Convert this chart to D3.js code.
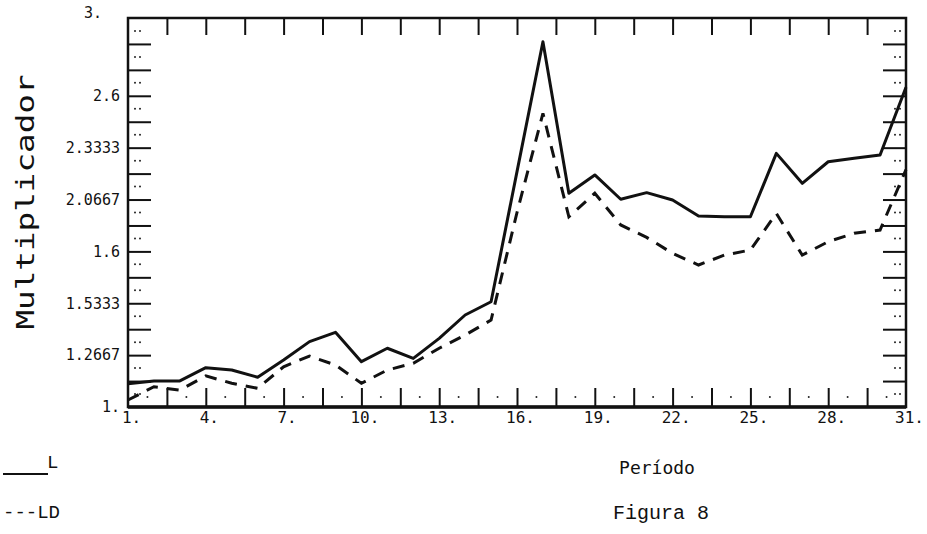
<!DOCTYPE html>
<html lang="es">
<head>
  <meta charset="utf-8">
  <title>Figura 8</title>
  <script src="https://d3js.org/d3.v7.min.js"></script>
  <style>
    body { margin: 0; padding: 0; background: #fff; overflow: hidden; }
    svg { display: block; background: #fff; }
    .ticks line { stroke: #111; stroke-width: 2px; }
    .ticks .domain { display: none; }
    .lbl text { font-family: "DejaVu Sans Mono", monospace; font-size: 15px; fill: #111; }
    .lbl .domain { display: none; }
    .xlbl text { font-size: 16px; }
  </style>
</head>
<body>
  <svg id="chart" width="927" height="534"></svg>

  <script>
    // periods 1..31
    const periods = d3.range(1, 32);

    // series L (solid) and LD (dashed)
    const seriesL = [1.12, 1.134, 1.134, 1.202, 1.19, 1.153, 1.242, 1.336, 1.384, 1.233,
      1.302, 1.25, 1.353, 1.473, 1.541, 2.21, 2.878, 2.099, 2.193, 2.068,
      2.102, 2.064, 1.982, 1.978, 1.978, 2.304, 2.15, 2.261, 2.279, 2.296, 2.644];
    const seriesLD = [1.036, 1.104, 1.087, 1.16, 1.122, 1.096, 1.207, 1.262, 1.216, 1.122,
      1.19, 1.225, 1.302, 1.37, 1.447, 2.0, 2.51, 1.978, 2.099, 1.936,
      1.872, 1.79, 1.73, 1.781, 1.807, 1.995, 1.781, 1.85, 1.893, 1.91, 2.22];

    // tick labels
    const xLabelValues = [1, 4, 7, 10, 13, 16, 19, 22, 25, 28, 31];
    const yLabelValues = [1, 1.26667, 1.53333, 1.8, 2.06667, 2.33333, 2.6, 3];
    const yLabelText = ["1.", "1.2667", "1.5333", "1.6", "2.0667", "2.3333", "2.6", "3."];

    const svg = d3.select("#chart");

    const x = d3.scaleLinear().domain([1, 31]).range([128, 906]);
    const y = d3.scaleLinear().domain([1, 3]).range([407, 18]);

    // minor ticks: 20 steps on x, 15 steps on y
    const xTicks = d3.range(21).map(i => 1 + i * 1.5);
    const yTicks = d3.range(1, 15).map(i => 1 + i * 2 / 15);

    svg.append("g").attr("class", "ticks")
      .attr("transform", "translate(0,407)")
      .call(d3.axisBottom(x).tickValues(xTicks.slice(1, -1)).tickSize(-19).tickFormat(""));
    svg.append("g").attr("class", "ticks")
      .attr("transform", "translate(0,18)")
      .call(d3.axisTop(x).tickValues(xTicks.slice(1, -1)).tickSize(-17).tickFormat(""));
    svg.append("g").attr("class", "ticks")
      .attr("transform", "translate(128,0)")
      .call(d3.axisLeft(y).tickValues(yTicks).tickSize(-23).tickFormat(""));
    svg.append("g").attr("class", "ticks")
      .attr("transform", "translate(906,0)")
      .call(d3.axisRight(y).tickValues(yTicks).tickSize(-23).tickFormat(""));

    // little dotted marks between the ticks
    const dots = svg.append("g").attr("fill", "#222");
    const yMid = d3.range(15).map(i => 1 + (i + 0.5) * 2 / 15);
    yMid.forEach(v => {
      [135, 140, 895, 900].forEach(cx => {
        dots.append("circle").attr("cx", cx).attr("cy", y(v)).attr("r", 1);
      });
    });
    d3.range(20).map(i => 1 + (i + 0.5) * 1.5).forEach(v => {
      dots.append("circle").attr("cx", x(v)).attr("cy", 397).attr("r", 1);
    });

    // frame
    svg.append("rect")
      .attr("x", 128).attr("y", 18)
      .attr("width", 906 - 128).attr("height", 407 - 18)
      .attr("fill", "none").attr("stroke", "#111").attr("stroke-width", 2.5);
    svg.append("line")
      .attr("x1", 128).attr("x2", 906).attr("y1", 407).attr("y2", 407)
      .attr("stroke", "#111").attr("stroke-width", 3.5);

    // tick labels
    svg.append("g").attr("class", "lbl xlbl")
      .attr("transform", "translate(0,409)")
      .call(d3.axisBottom(x).tickValues(xLabelValues).tickSize(0).tickPadding(3)
        .tickFormat(d => d + "."))
      .selectAll("text").attr("dx", 3);
    const yl = svg.append("g").attr("class", "lbl")
      .attr("transform", "translate(128,0)")
      .call(d3.axisLeft(y).tickValues(yLabelValues).tickSize(0).tickPadding(8)
        .tickFormat((d, i) => yLabelText[i]));
    // top label sits a little up and left in the original
    yl.selectAll("text").filter(d => d === 3).attr("dx", -18).attr("dy", "-0.05em");

    // lines
    const line = d3.line().x((d, i) => x(periods[i])).y(d => y(d));

    svg.append("path")
      .datum(seriesL)
      .attr("d", line)
      .attr("fill", "none")
      .attr("stroke", "#111")
      .attr("stroke-width", 3)
      .attr("stroke-linejoin", "round");

    svg.append("path")
      .datum(seriesLD)
      .attr("d", line)
      .attr("fill", "none")
      .attr("stroke", "#111")
      .attr("stroke-width", 3)
      .attr("stroke-dasharray", "12,9");

    // axis titles
    svg.append("text")
      .attr("transform", "translate(34,202) rotate(-90)")
      .attr("text-anchor", "middle")
      .attr("font-family", "DejaVu Sans Mono, monospace")
      .attr("font-size", 24)
      .attr("textLength", 255)
      .attr("lengthAdjust", "spacingAndGlyphs")
      .attr("fill", "#111")
      .text("Multiplicador");

    svg.append("text")
      .attr("x", 657).attr("y", 474)
      .attr("text-anchor", "middle")
      .attr("font-family", "DejaVu Sans Mono, monospace")
      .attr("font-size", 18)
      .attr("fill", "#111")
      .text("Período");

    svg.append("text")
      .attr("x", 661).attr("y", 519)
      .attr("text-anchor", "middle")
      .attr("font-family", "Liberation Mono, monospace")
      .attr("font-size", 20)
      .attr("fill", "#111")
      .text("Figura 8");

    // legend
    svg.append("line")
      .attr("x1", 3).attr("x2", 48).attr("y1", 474).attr("y2", 474)
      .attr("stroke", "#111").attr("stroke-width", 2);
    svg.append("text")
      .attr("x", 47).attr("y", 468)
      .attr("font-family", "Liberation Mono, monospace")
      .attr("font-size", 19)
      .attr("fill", "#111")
      .text("L");
    svg.append("text")
      .attr("x", 3).attr("y", 518)
      .attr("font-family", "Liberation Mono, monospace")
      .attr("font-size", 19)
      .attr("fill", "#111")
      .text("---LD");
  </script>
</body>
</html>
